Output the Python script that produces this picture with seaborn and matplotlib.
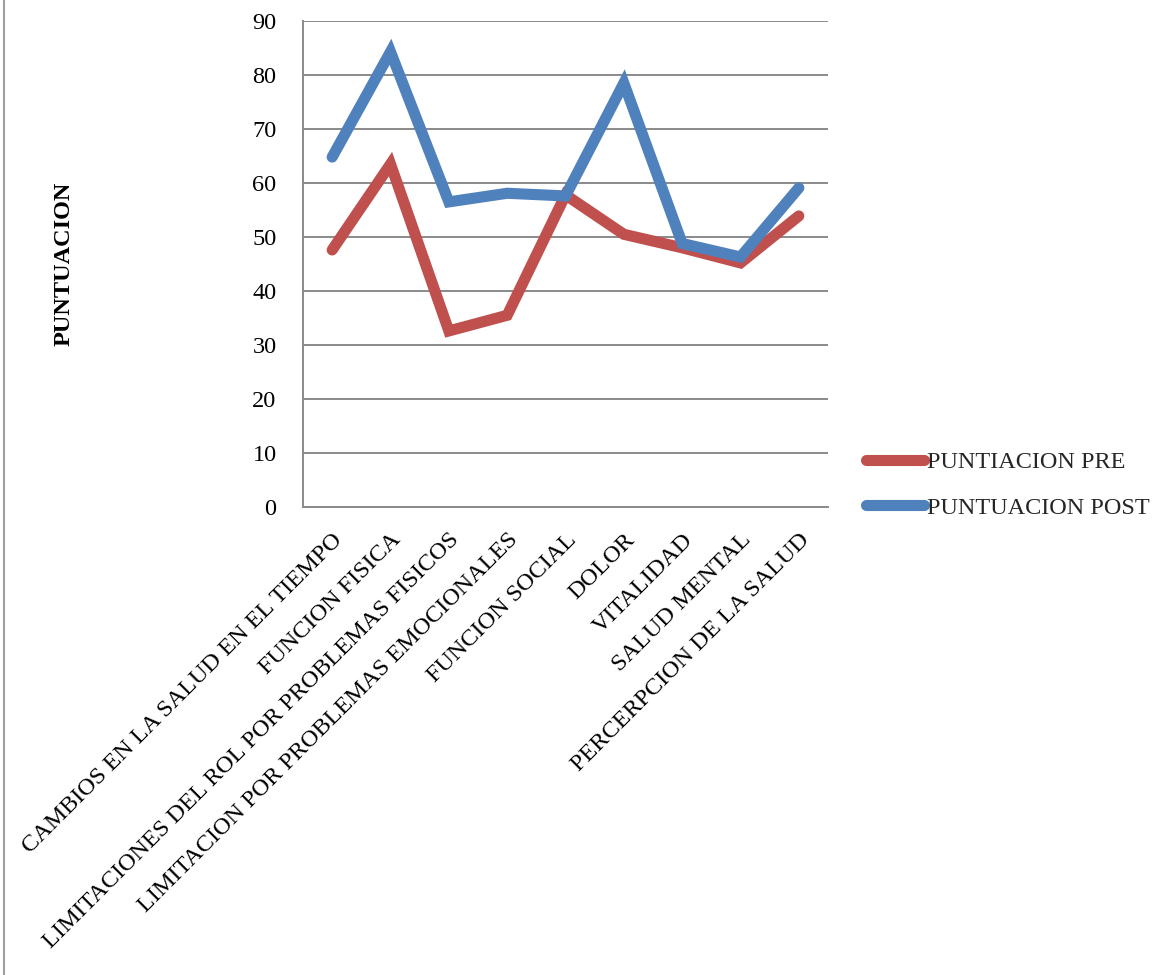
import pandas as pd
import matplotlib
matplotlib.use("Agg")
import matplotlib.pyplot as plt
from matplotlib.lines import Line2D
import seaborn as sns

# ---------------------------------------------------------------------------
# DATA
# ---------------------------------------------------------------------------
categories = [
    "CAMBIOS EN LA SALUD EN EL TIEMPO",
    "FUNCION FISICA",
    "LIMITACIONES DEL ROL POR PROBLEMAS FISICOS",
    "LIMITACION POR PROBLEMAS EMOCIONALES",
    "FUNCION SOCIAL",
    "DOLOR",
    "VITALIDAD",
    "SALUD MENTAL",
    "PERCERPCION DE LA SALUD",
]
pre_values = [47.6, 63.5, 32.6, 35.5, 57.8, 50.5, 48.0, 45.2, 53.9]
post_values = [64.8, 84.3, 56.5, 58.1, 57.6, 78.5, 48.8, 46.3, 59.1]
series_names = ["PUNTIACION PRE", "PUNTUACION POST"]
y_ticks = [0, 10, 20, 30, 40, 50, 60, 70, 80, 90]

RED = "#C0504D"
BLUE = "#4F81BD"
GRID = "#8a8a8a"
FS = 17.5

# long format for seaborn
df = pd.DataFrame({
    "categoria": categories * 2,
    "valor": pre_values + post_values,
    "serie": [series_names[0]] * len(categories) + [series_names[1]] * len(categories),
})

sns.set_style("white")
plt.rcParams["font.family"] = ["Liberation Serif", "DejaVu Serif"]

fig = plt.figure(figsize=(11.69, 9.75), dpi=100)
ax = fig.add_axes([303 / 1169, 1 - 507 / 975, 525 / 1169, 486 / 975])

sns.lineplot(
    data=df, x="categoria", y="valor", hue="serie",
    palette=[RED, BLUE], linewidth=8, sort=False,
    legend=False, ax=ax,
)
for line in ax.get_lines():
    line.set_solid_capstyle("round")
    line.set_solid_joinstyle("miter")

ax.set_xlim(-0.5, len(categories) - 0.5)
ax.set_ylim(0, 90)
ax.set_yticks(y_ticks)
ax.yaxis.grid(True, color=GRID, linewidth=1.4)
ax.set_axisbelow(True)
for side in ["top", "right"]:
    ax.spines[side].set_visible(False)
for side in ["left", "bottom"]:
    ax.spines[side].set_color(GRID)
    ax.spines[side].set_linewidth(1.4)

ax.tick_params(axis="y", length=0, pad=19, labelsize=FS, labelcolor="black")
ax.tick_params(axis="x", length=0, pad=16, labelsize=FS, labelcolor="black")
ax.set_xticks(range(len(categories)))
ax.set_xticklabels(categories, rotation=45, ha="right", rotation_mode="anchor")

ax.set_xlabel("")
ax.set_ylabel("PUNTUACION", fontsize=FS, fontweight="bold", color="black")
ax.yaxis.set_label_coords(-0.435, 0.5)

handles = [
    Line2D([], [], color=RED, linewidth=8, solid_capstyle="round"),
    Line2D([], [], color=BLUE, linewidth=8, solid_capstyle="round"),
]
fig.legend(
    handles, series_names, loc="center left",
    bbox_to_anchor=(866 / 1169, 1 - 485 / 975),
    frameon=False, fontsize=FS, handlelength=2.4, handletextpad=0.1,
    labelspacing=0.95, borderpad=0, borderaxespad=0,
)

# outer chart border (only left edge visible)
fig.add_artist(Line2D([4 / 1169, 4 / 1169], [0, 1], color="#a0a0a0", linewidth=1.5))

fig.savefig("out.png", dpi=100)
plt.close(fig)
